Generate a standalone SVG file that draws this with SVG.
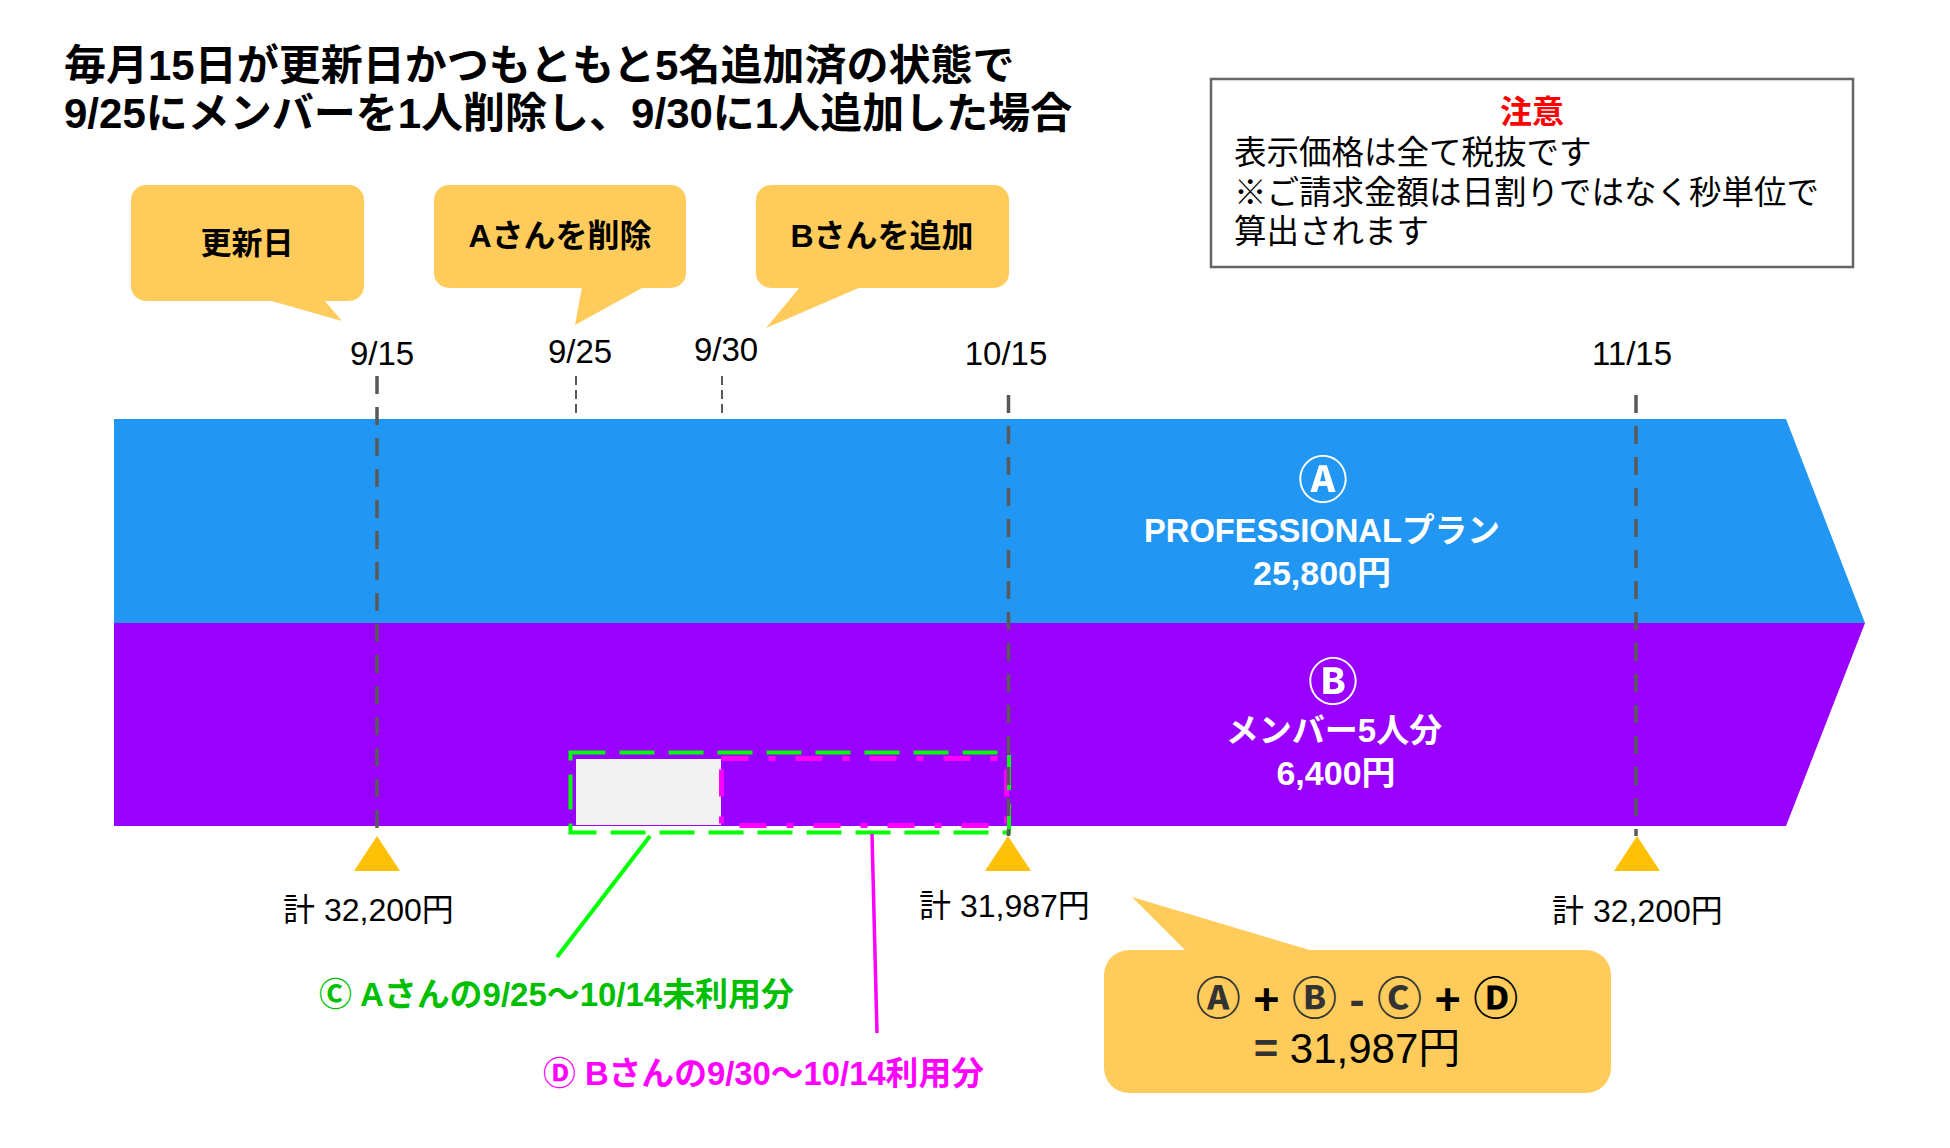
<svg xmlns="http://www.w3.org/2000/svg" width="1950" height="1148" viewBox="0 0 1950 1148">
<style>
.f{font-family:'Liberation Sans','Noto Sans CJK JP',sans-serif}
.cj{font-family:'Noto Sans CJK JP','Liberation Sans',sans-serif}
.b{font-weight:bold}
.bub{fill:#FFCC5B}
.vline{stroke:#595959;stroke-width:3.5;stroke-dasharray:18 13;fill:none}
.sline{stroke:#595959;stroke-width:2;stroke-dasharray:9 5;fill:none}
.tri{fill:#FFC107}
.date{font-size:33px;fill:#000;text-anchor:middle}
.tot{font-size:32px;fill:#000}
.w{fill:#fff;text-anchor:middle}
</style>
<rect x="0" y="0" width="1950" height="1148" fill="#fff"/>

<g id="title" class="f b" font-size="42" fill="#000">
<text x="64" y="80">毎月15日が更新日かつもともと5名追加済の状態で</text>
<text x="64" y="128">9/25にメンバーを1人削除し、9/30に1人追加した場合</text>
</g>

<g id="bubble-renewal">
<rect class="bub" x="131" y="185" width="233" height="116" rx="15"/>
<polygon class="bub" points="268,300 324,300 342,321"/>
<text class="f b" x="247" y="254" font-size="31" text-anchor="middle">更新日</text>
</g>
<g id="bubble-delete-a">
<rect class="bub" x="434" y="185" width="252" height="103" rx="15"/>
<polygon class="bub" points="582,287 644,287 575,325"/>
<text class="f b" x="560" y="247" font-size="32" text-anchor="middle">Aさんを削除</text>
</g>
<g id="bubble-add-b">
<rect class="bub" x="756" y="185" width="253" height="103" rx="15"/>
<polygon class="bub" points="800,287 861,287 766,328"/>
<text class="f b" x="882" y="247" font-size="32" text-anchor="middle">Bさんを追加</text>
</g>

<g id="dates" class="f">
<text class="date" x="382" y="365">9/15</text>
<text class="date" x="580" y="363">9/25</text>
<text class="date" x="726" y="361">9/30</text>
<text class="date" x="1006" y="365">10/15</text>
<text class="date" x="1632" y="365">11/15</text>
</g>

<g id="band-a">
<polygon points="114,419 1786,419 1865,623 114,623" fill="#2196F3"/>
<text class="cj b w" x="1323" y="498" font-size="50">Ⓐ</text>
<text class="f b w" x="1322" y="542" font-size="33" textLength="356" lengthAdjust="spacingAndGlyphs">PROFESSIONALプラン</text>
<text class="f b w" x="1322" y="585" font-size="34">25,800円</text>
</g>
<g id="band-b">
<polygon points="114,623 1865,623 1786,826 114,826" fill="#9900FF"/>
<text class="cj b w" x="1333" y="700" font-size="50">Ⓑ</text>
<text class="f b w" x="1334" y="742" font-size="33">メンバー5人分</text>
<text class="f b w" x="1336" y="785" font-size="34">6,400円</text>
</g>

<g id="box-c-d">
<rect x="576" y="759" width="145" height="66" fill="#F3F3F3"/>
<rect x="721.5" y="758.5" width="285" height="67" fill="none" stroke="#FF00FF" stroke-width="5" stroke-dasharray="27 20 7 20"/>
<rect x="570.5" y="752.5" width="438.5" height="80" fill="none" stroke="#00FF00" stroke-width="4" stroke-dasharray="35 14"/>
</g>

<g id="connectors">
<line class="vline" x1="377" y1="376" x2="377" y2="836"/>
<line class="sline" x1="576" y1="376" x2="576" y2="416"/>
<line class="sline" x1="722" y1="376" x2="722" y2="416"/>
<line class="vline" x1="1008.5" y1="395" x2="1008.5" y2="836"/>
<line class="vline" x1="1636" y1="395" x2="1636" y2="836"/>
<line x1="650" y1="836" x2="557" y2="957" stroke="#00FF00" stroke-width="4"/>
<line x1="872" y1="834" x2="877" y2="1033" stroke="#FF00FF" stroke-width="3.5"/>
</g>

<g id="markers">
<polygon class="tri" points="377,836 400,871 354,871"/>
<polygon class="tri" points="1008,836 1031,871 985,871"/>
<polygon class="tri" points="1637,836 1660,871 1614,871"/>
</g>

<g id="totals" class="f">
<text class="tot" x="283" y="921">計 32,200円</text>
<text class="tot" x="919" y="917">計 31,987円</text>
<text class="tot" x="1552" y="922">計 32,200円</text>
</g>

<g id="label-c">
<text class="f b" x="319" y="1006" font-size="33" fill="#00BF00" textLength="475" lengthAdjust="spacingAndGlyphs">Ⓒ Aさんの9/25〜10/14未利用分</text>
</g>
<g id="label-d">
<text class="f b" x="543" y="1085" font-size="33" fill="#FF00FF" textLength="441" lengthAdjust="spacingAndGlyphs">Ⓓ Bさんの9/30〜10/14利用分</text>
</g>

<g id="formula">
<rect class="bub" x="1104" y="950" width="507" height="143" rx="25"/>
<polygon class="bub" points="1186,951 1313,951 1132,897"/>
<text class="f b" x="1357" y="1015" font-size="45" text-anchor="middle"><tspan fill="#333">Ⓐ</tspan><tspan fill="#000"> + </tspan><tspan fill="#333">Ⓑ</tspan><tspan fill="#333"> - </tspan><tspan fill="#333">Ⓒ</tspan><tspan fill="#000"> + </tspan><tspan fill="#000">Ⓓ</tspan></text>
<text class="f" x="1357" y="1063" font-size="42" text-anchor="middle"><tspan class="b" fill="#333">=</tspan><tspan fill="#000"> 31,987円</tspan></text>
</g>

<g id="note">
<rect x="1211" y="79" width="642" height="188" fill="#fff" stroke="#666" stroke-width="2.5"/>
<text class="f b" x="1532" y="123" font-size="32" fill="#FF0000" text-anchor="middle">注意</text>
<text class="f" x="1234" y="164" font-size="32.5" fill="#000">表示価格は全て税抜です</text>
<text class="f" x="1234" y="204" font-size="32.5" fill="#000">※ご請求金額は日割りではなく秒単位で</text>
<text class="f" x="1234" y="243" font-size="32.5" fill="#000">算出されます</text>
</g>
</svg>
